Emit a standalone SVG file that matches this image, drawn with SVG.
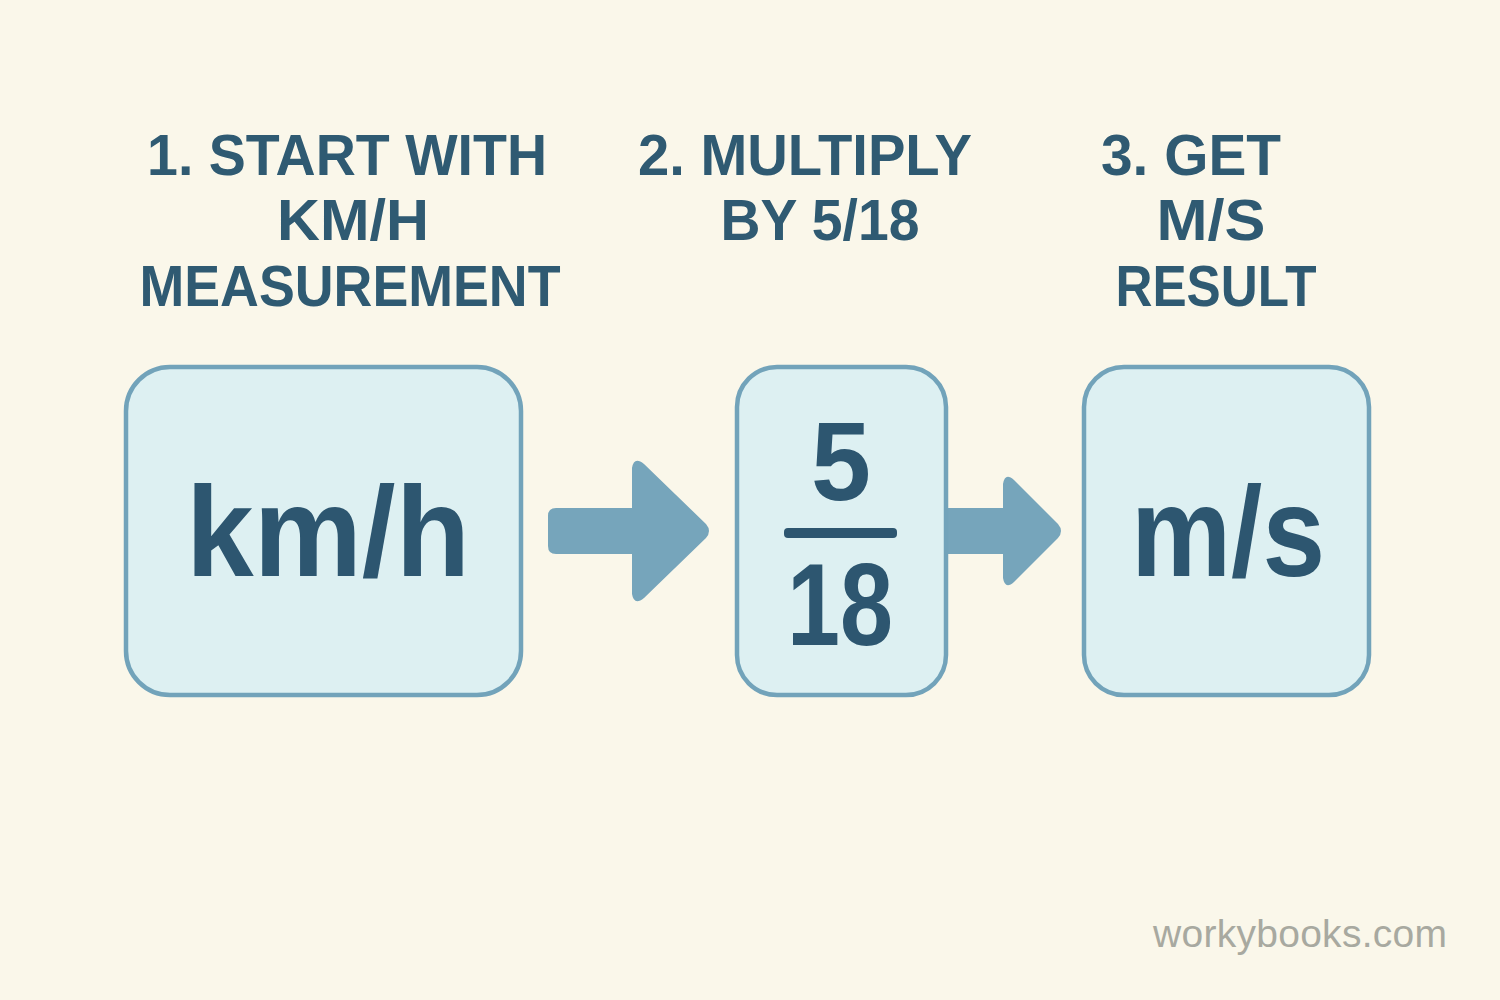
<svg xmlns="http://www.w3.org/2000/svg" width="1500" height="1000" viewBox="0 0 1500 1000">
<style>
.bg{fill:#FAF7EA}
.box{fill:#DDF0F2;stroke:#72A3BA;stroke-width:4.5}
.head{font-family:"Liberation Sans",Arial,sans-serif;font-weight:bold;font-size:58px;fill:#2F5A72;text-anchor:middle}
.big{font-family:"Liberation Sans",Arial,sans-serif;font-weight:bold;fill:#2D5670;text-anchor:middle}
.arrow{fill:#76A5BB}
.wm{font-family:"Liberation Sans",Arial,sans-serif;font-size:39px;fill:#A8A9A0}
</style>
<rect class="bg" x="0" y="0" width="1500" height="1000"/>
<g id="step1-label">
<text class="head" x="347" y="175" textLength="400" lengthAdjust="spacingAndGlyphs">1. START WITH</text>
<text class="head" x="353" y="240" textLength="152" lengthAdjust="spacingAndGlyphs">KM/H</text>
<text class="head" x="350" y="306" textLength="421" lengthAdjust="spacingAndGlyphs">MEASUREMENT</text>
</g>
<g id="step2-label">
<text class="head" x="805" y="175" textLength="334" lengthAdjust="spacingAndGlyphs">2. MULTIPLY</text>
<text class="head" x="820" y="240" textLength="199" lengthAdjust="spacingAndGlyphs">BY 5/18</text>
</g>
<g id="step3-label">
<text class="head" x="1191" y="175" textLength="180" lengthAdjust="spacingAndGlyphs">3. GET</text>
<text class="head" x="1211" y="240" textLength="109" lengthAdjust="spacingAndGlyphs">M/S</text>
<text class="head" x="1216" y="306" textLength="201" lengthAdjust="spacingAndGlyphs">RESULT</text>
</g>
<g id="connectors">
<path class="arrow" d="M556,508 L632,508 L632,468 Q634,456 644,464 L706,524 Q712,531 706,538 L644,598 Q634,606 632,594 L632,554 L556,554 Q548,554 548,546 L548,516 Q548,508 556,508 Z"/>
<path class="arrow" d="M946,508 L1003,508 L1003,484 Q1005,472 1014,480 L1058,524 Q1064,531 1058,538 L1014,582 Q1005,590 1003,578 L1003,554 L946,554 Z"/>
</g>
<g id="node-kmh">
<rect class="box" x="126" y="367" width="395" height="328" rx="44"/>
<text class="big" x="328" y="576" font-size="128" textLength="284" lengthAdjust="spacingAndGlyphs">km/h</text>
</g>
<g id="node-fraction">
<rect class="box" x="737" y="367" width="209" height="328" rx="40"/>
<text class="big" x="841" y="500" font-size="112" textLength="60" lengthAdjust="spacingAndGlyphs">5</text>
<rect x="784" y="528" width="113" height="10" rx="4" fill="#2D5670"/>
<text class="big" x="840" y="645" font-size="116" textLength="106" lengthAdjust="spacingAndGlyphs">18</text>
</g>
<g id="node-ms">
<rect class="box" x="1084" y="367" width="285" height="328" rx="40"/>
<text class="big" x="1228" y="576" font-size="128" textLength="194" lengthAdjust="spacingAndGlyphs">m/s</text>
</g>
<text class="wm" x="1153" y="947" textLength="294">workybooks.com</text>
</svg>
